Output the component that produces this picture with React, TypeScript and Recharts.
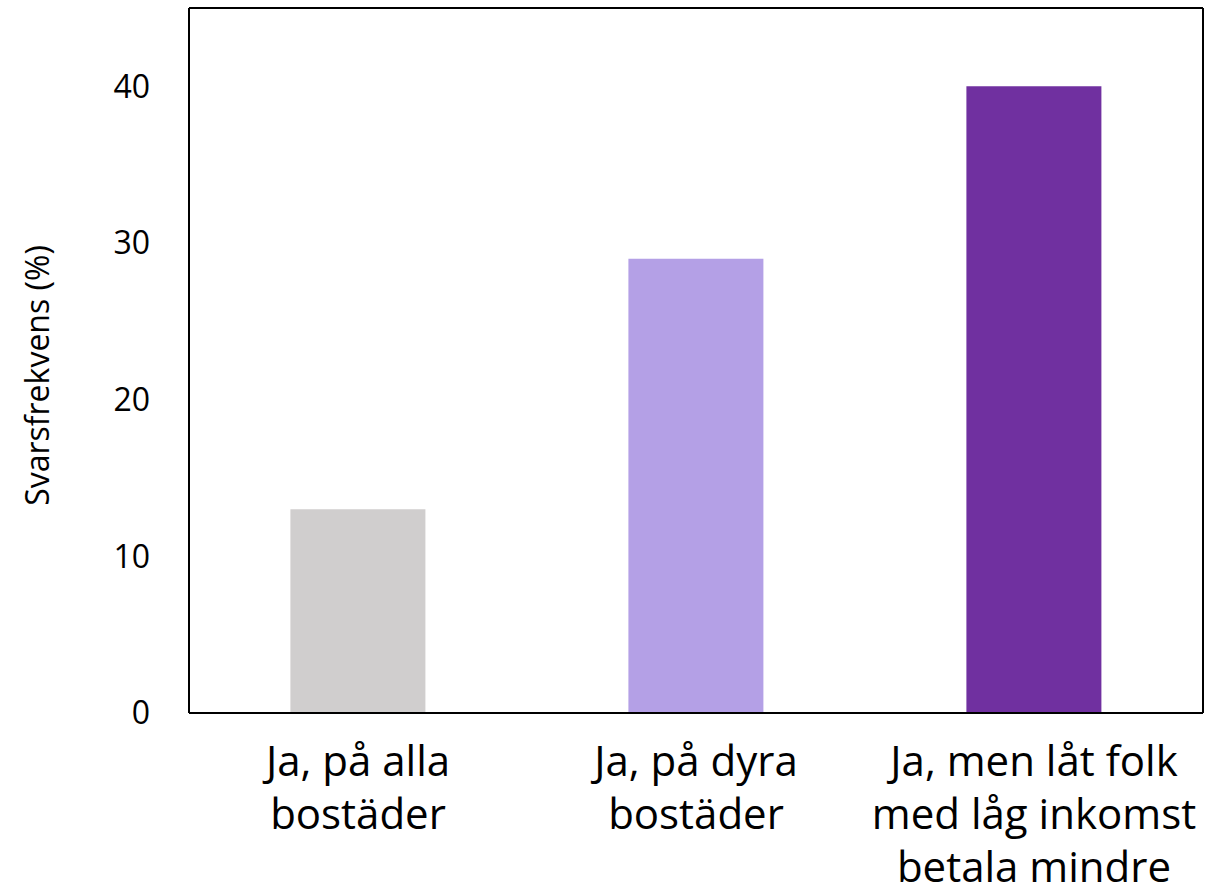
import { BarChart, Bar, XAxis, YAxis, Cell, ReferenceLine } from "recharts"

const categories = ["Ja, på alla\nbostäder", "Ja, på dyra\nbostäder", "Ja, men låt folk\nmed låg inkomst\nbetala mindre"]
const responseRates = [13, 29, 40]
const barColors = ["#D0CECE", "#B4A0E6", "#7030A0"]
const yTicks = [0, 10, 20, 30, 40]
const yMax = 45

const data = categories.map((name, i) => ({ name, value: responseRates[i] }))

const FONT = "'Open Sans', sans-serif"

function CategoryTick({ x, y, payload }: any) {
  const lines = String(payload.value).split("\n")
  return (
    <text x={x} y={y} textAnchor="middle" fill="#000" fontSize={42} fontFamily={FONT}>
      {lines.map((line, i) => (
        <tspan key={i} x={x} dy={i === 0 ? 63 : 53}>
          {line}
        </tspan>
      ))}
    </text>
  )
}

export default function App() {
  return (
    <div style={{ position: "absolute", left: 0, top: 0, width: 1220, height: 895, background: "#fff" }}>
      <BarChart
        width={1220}
        height={895}
        data={data}
        margin={{ top: 8, right: 17, bottom: 0, left: 0 }}
        barCategoryGap="30%"
      >
        <XAxis
          dataKey="name"
          height={182}
          interval={0}
          tickLine={false}
          tickSize={0}
          tickMargin={0}
          axisLine={{ stroke: "#000", strokeWidth: 2 }}
          tick={<CategoryTick />}
        />
        <YAxis
          width={189}
          domain={[0, yMax]}
          ticks={yTicks}
          tickLine={false}
          tickSize={0}
          tickMargin={39}
          axisLine={{ stroke: "#000", strokeWidth: 2 }}
          tick={{ fill: "#000", fontSize: 32, fontFamily: FONT }}
          label={{
            value: "Svarsfrekvens (%)",
            angle: -90,
            position: "center",
            dx: -57,
            dy: 15,
            style: { fill: "#000", fontSize: 32, fontFamily: FONT },
          }}
        />
        <ReferenceLine y={yMax} stroke="#000" strokeWidth={2} />
        <ReferenceLine x={categories[categories.length - 1]} position="end" stroke="#000" strokeWidth={2} />
        <Bar dataKey="value" isAnimationActive={false}>
          {data.map((d, i) => (
            <Cell key={d.name} fill={barColors[i]} />
          ))}
        </Bar>
      </BarChart>
    </div>
  )
}
